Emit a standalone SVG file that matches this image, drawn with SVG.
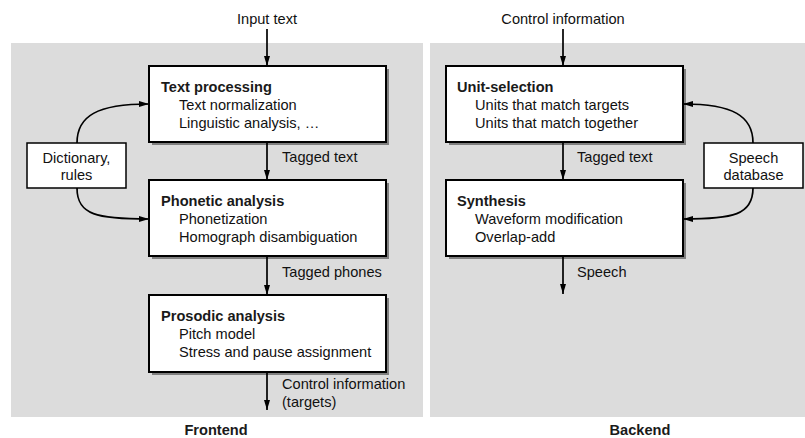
<svg xmlns="http://www.w3.org/2000/svg" width="805" height="438" viewBox="0 0 805 438">
  <defs>
    <marker id="arrow" viewBox="0 0 10 6" refX="10" refY="3" markerWidth="10" markerHeight="6" markerUnits="userSpaceOnUse" orient="auto">
      <path d="M0,0 L10,3 L0,6 Z" fill="#000"/>
    </marker>
  </defs>
  <style>
    text { font-family: "Liberation Sans", Arial, sans-serif; font-size: 14.6px; fill: #111; }
    .title { font-weight: bold; fill: #1a1a1a; }
    .mid { text-anchor: middle; }
    .panel { fill: #dcdcdc; }
    .box { fill: #fff; stroke: #000; stroke-width: 2; }
    .shadow { fill: #808080; }
    .store { fill: #fff; stroke: #000; stroke-width: 1.5; }
    .conn path, .conn line { fill: none; stroke: #000; stroke-width: 1.7; marker-end: url(#arrow); }
  </style>

  <rect width="805" height="438" fill="#fff"/>
  <!-- panels -->
  <rect class="panel" x="11" y="43" width="412" height="374"/>
  <rect class="panel" x="430" y="43" width="375" height="374"/>

  <!-- frontend -->
  <g id="text-processing">
    <rect class="shadow" x="152" y="69" width="237" height="76"/>
    <rect class="box" x="149" y="66" width="237" height="76"/>
    <text class="title" x="161" y="92">Text processing</text>
    <text x="179" y="110">Text normalization</text>
    <text x="179" y="128">Linguistic analysis, …</text>
  </g>
  <g id="phonetic-analysis">
    <rect class="shadow" x="152" y="183" width="237" height="76"/>
    <rect class="box" x="149" y="180" width="237" height="76"/>
    <text class="title" x="161" y="206">Phonetic analysis</text>
    <text x="179" y="224">Phonetization</text>
    <text x="179" y="242">Homograph disambiguation</text>
  </g>
  <g id="prosodic-analysis">
    <rect class="shadow" x="152" y="298" width="237" height="77"/>
    <rect class="box" x="149" y="295" width="237" height="77"/>
    <text class="title" x="161" y="321">Prosodic analysis</text>
    <text x="179" y="339">Pitch model</text>
    <text x="179" y="357">Stress and pause assignment</text>
  </g>
  <g id="dictionary">
    <rect class="store" x="27" y="143" width="99" height="45"/>
    <text class="mid" x="76.5" y="163">Dictionary,</text>
    <text class="mid" x="76.5" y="180">rules</text>
  </g>

  <!-- backend -->
  <g id="unit-selection">
    <rect class="shadow" x="449" y="69" width="237" height="76"/>
    <rect class="box" x="446" y="66" width="237" height="76"/>
    <text class="title" x="457" y="92">Unit-selection</text>
    <text x="475" y="110">Units that match targets</text>
    <text x="475" y="128">Units that match together</text>
  </g>
  <g id="synthesis">
    <rect class="shadow" x="449" y="183" width="237" height="76"/>
    <rect class="box" x="446" y="180" width="237" height="76"/>
    <text class="title" x="457" y="206">Synthesis</text>
    <text x="475" y="224">Waveform modification</text>
    <text x="475" y="242">Overlap-add</text>
  </g>
  <g id="speech-database">
    <rect class="store" x="704" y="143" width="99" height="45"/>
    <text class="mid" x="753.5" y="163">Speech</text>
    <text class="mid" x="753.5" y="180">database</text>
  </g>

  <!-- connectors -->
  <g class="conn">
    <line x1="267" y1="29" x2="267" y2="66"/>
    <line x1="267" y1="142" x2="267" y2="180"/>
    <line x1="267" y1="256" x2="267" y2="295"/>
    <line x1="267" y1="372" x2="267" y2="410"/>
    <path d="M77,143 C77,116 97,104 149,104"/>
    <path d="M77,188 C77,215 97,219 149,219"/>
    <line x1="563" y1="29" x2="563" y2="66"/>
    <line x1="563" y1="142" x2="563" y2="180"/>
    <line x1="563" y1="256" x2="563" y2="294"/>
    <path d="M753,143 C753,116 733,104 683,104"/>
    <path d="M753,188 C753,215 733,219 683,219"/>
  </g>

  <!-- connector labels -->
  <text class="mid" x="267" y="24">Input text</text>
  <text x="282" y="162">Tagged text</text>
  <text x="282" y="277">Tagged phones</text>
  <text x="282" y="389">Control information</text>
  <text x="282" y="407">(targets)</text>
  <text class="mid" x="563" y="24">Control information</text>
  <text x="577" y="162">Tagged text</text>
  <text x="577" y="277">Speech</text>

  <!-- panel captions -->
  <text class="title mid" x="216" y="435">Frontend</text>
  <text class="title mid" x="640" y="435">Backend</text>
</svg>
